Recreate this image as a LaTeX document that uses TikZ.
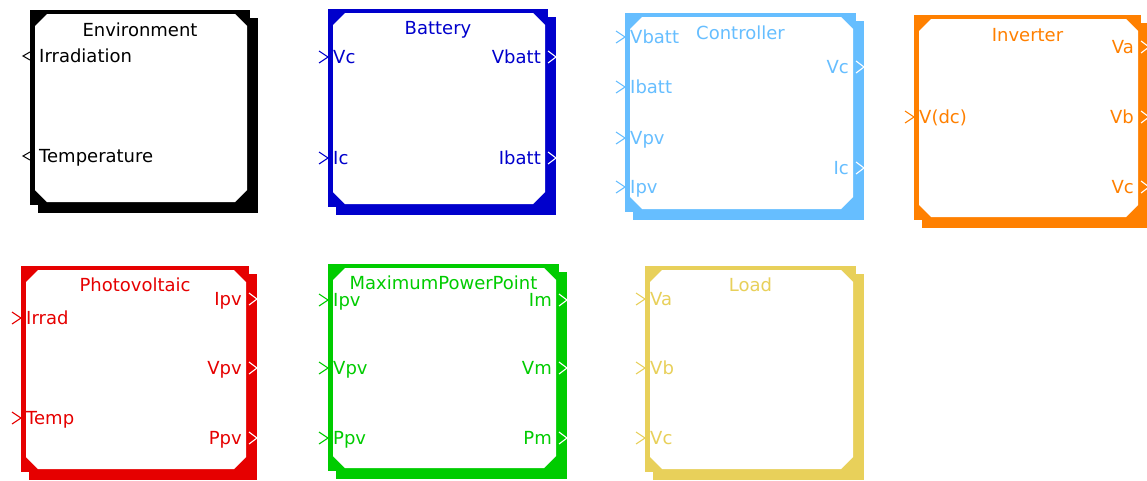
\documentclass[tikz,border=0pt]{standalone}
\usepackage{fontspec}
\setmainfont{DejaVu Sans}
\definecolor{cenv}{RGB}{0,0,0}
\definecolor{cbat}{RGB}{0,0,204}
\definecolor{cctl}{RGB}{102,190,255}
\definecolor{cinv}{RGB}{255,128,0}
\definecolor{cpv}{RGB}{230,0,0}
\definecolor{cmpp}{RGB}{0,204,0}
\definecolor{cload}{RGB}{232,208,90}
\tikzset{
  lbl/.style={inner sep=0pt, font=\fontsize{18}{21}\selectfont},
  chev/.style={line width=1.1pt, line join=miter},
}
% name, colour, x1, y1, x2, y2, title, title baseline y
\newcommand\simblk[8]{%
  \fill[#2] ({#3+8},{#4+8}) rectangle ({#5+8},{#6+8});
  \fill[#2] (#3,#4) rectangle (#5,#6);
  \fill[white] ({#3+17},{#4+4}) -- ({#5-15},{#4+4}) -- ({#5-3},{#4+16}) -- ({#5-3},{#6-15})
     -- ({#5-15},{#6-3}) -- ({#3+17},{#6-3}) -- ({#3+5},{#6-15}) -- ({#3+5},{#4+16}) -- cycle;
  \node[lbl, text=#2, anchor=base] (#1) at ({(#3+#5)/2},#8) {#7};
}
% name, colour, frame-left x, y, label
\newcommand\inport[5]{%
  \draw[chev,#2] ({#3-9},{#4-6}) -- (#3,#4) -- ({#3-9},{#4+6});
  \node[lbl, text=#2, anchor=base west] (#1) at ({#3+5},{#4+6.5}) {#5};
}
% name, colour, frame-right x, y, label
\newcommand\outport[5]{%
  \draw[chev,white] (#3,{#4-6}) -- ({#3+8},#4) -- (#3,{#4+6});
  \node[lbl, text=#2, anchor=base east] (#1) at ({#3-7},{#4+6.5}) {#5};
}
% name, frame-left x, y, label
\newcommand\envport[4]{%
  \draw[black, line width=1pt, line join=miter] (#2,{#3-4}) -- ({#2-7},#3) -- (#2,{#3+4});
  \node[lbl, text=black, anchor=base west] (#1) at ({#2+9},{#3+6.5}) {#4};
}
\begin{document}
\begin{tikzpicture}[x=1pt,y=-1pt]
\useasboundingbox (0,0) rectangle (1147,480);
\fill[white] (0,0) rectangle (1147,480);

% Environment
\simblk{env}{cenv}{30}{10}{250}{205}{Environment}{36.7}
\envport{envirr}{30}{56}{Irradiation}
\envport{envtemp}{30}{156}{Temperature}

% Battery
\simblk{bat}{cbat}{328}{9}{548}{207}{Battery}{34.7}
\inport{batvc}{cbat}{328}{57}{Vc}
\inport{batic}{cbat}{328}{158}{Ic}
\outport{batvb}{cbat}{548}{57}{Vbatt}
\outport{batib}{cbat}{548}{158}{Ibatt}

% Controller
\simblk{ctl}{cctl}{625}{13}{856}{212}{Controller}{39.7}
\inport{ctlvb}{cctl}{625}{37}{Vbatt}
\inport{ctlib}{cctl}{625}{87}{Ibatt}
\inport{ctlvpv}{cctl}{625}{138}{Vpv}
\inport{ctlipv}{cctl}{625}{187}{Ipv}
\outport{ctlvc}{cctl}{856}{67}{Vc}
\outport{ctlic}{cctl}{856}{168}{Ic}

% Inverter
\simblk{inv}{cinv}{914}{15}{1141}{220}{Inverter}{41.7}
\inport{invdc}{cinv}{914}{117}{V(dc)}
\outport{invva}{cinv}{1141}{47}{Va}
\outport{invvb}{cinv}{1141}{117}{Vb}
\outport{invvc}{cinv}{1141}{187}{Vc}

% Photovoltaic
\simblk{pv}{cpv}{21}{266}{249}{472}{Photovoltaic}{291.7}
\inport{pvirr}{cpv}{21}{318}{Irrad}
\inport{pvtemp}{cpv}{21}{418}{Temp}
\outport{pvipv}{cpv}{249}{299}{Ipv}
\outport{pvvpv}{cpv}{249}{368}{Vpv}
\outport{pvppv}{cpv}{249}{438}{Ppv}

% MaximumPowerPoint
\simblk{mpp}{cmpp}{328}{264}{559}{471}{MaximumPowerPoint}{289.7}
\inport{mppipv}{cmpp}{328}{300}{Ipv}
\inport{mppvpv}{cmpp}{328}{368}{Vpv}
\inport{mppppv}{cmpp}{328}{438}{Ppv}
\outport{mppim}{cmpp}{559}{300}{Im}
\outport{mppvm}{cmpp}{559}{368}{Vm}
\outport{mpppm}{cmpp}{559}{438}{Pm}

% Load
\simblk{load}{cload}{645}{266}{856}{472}{Load}{291.7}
\inport{loadva}{cload}{645}{299}{Va}
\inport{loadvb}{cload}{645}{368}{Vb}
\inport{loadvc}{cload}{645}{438}{Vc}
\end{tikzpicture}
\end{document}
